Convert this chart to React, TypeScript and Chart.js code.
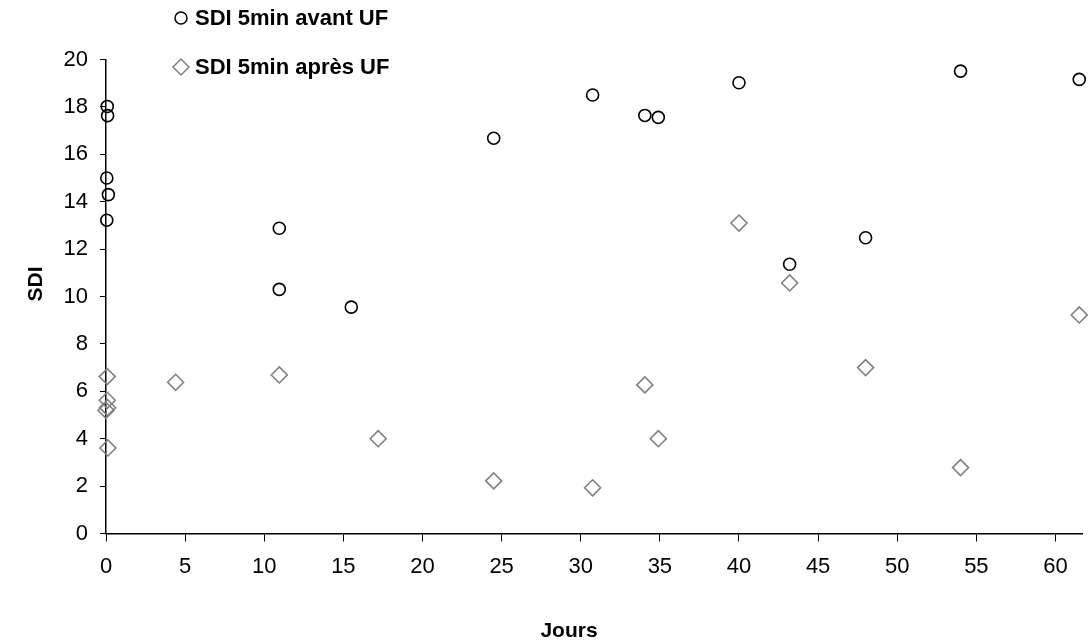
import React, { useEffect, useRef } from "react";
import { Chart, registerables } from "chart.js";

Chart.register(...registerables);

// Days (x) and SDI values (y)
const avantDays = [0.08, 0.1, 0.05, 0.15, 0.05, 10.95, 10.95, 15.5, 24.5, 30.75, 34.05, 34.9, 40.0, 43.2, 48.0, 54.0, 61.5];
const avantSDI = [18.02, 17.63, 15.0, 14.3, 13.22, 12.88, 10.3, 9.55, 16.68, 18.5, 17.64, 17.56, 19.02, 11.36, 12.48, 19.51, 19.16];

const apresDays = [0.08, 0.08, 0.1, 0.0, 0.12, 4.4, 10.95, 17.2, 24.5, 30.75, 34.05, 34.9, 40.0, 43.2, 48.0, 54.0, 61.5];
const apresSDI = [6.62, 5.62, 5.31, 5.2, 3.61, 6.38, 6.69, 4.0, 2.22, 1.93, 6.27, 4.0, 13.1, 10.57, 7.0, 2.78, 9.22];

const seriesNames = ["SDI 5min avant UF", "SDI 5min après UF"];
const xTitle = "Jours";
const yTitle = "SDI";

const FONT = "'Liberation Sans', Arial, sans-serif";

export default function App() {
  const ref = useRef<HTMLCanvasElement | null>(null);

  useEffect(() => {
    if (!ref.current) return;
    const toPts = (xs: number[], ys: number[]) => xs.map((x, i) => ({ x, y: ys[i] }));

    const overlay = {
      id: "overlay",
      afterDraw(chart: any) {
        const ctx = chart.ctx;
        ctx.save();
        // legend
        ctx.lineWidth = 1.5;
        ctx.strokeStyle = "#000";
        ctx.beginPath();
        ctx.arc(181, 18, 6, 0, Math.PI * 2);
        ctx.stroke();
        ctx.strokeStyle = "#808080";
        ctx.beginPath();
        ctx.moveTo(181, 67 - 8);
        ctx.lineTo(181 + 8, 67);
        ctx.lineTo(181, 67 + 8);
        ctx.lineTo(181 - 8, 67);
        ctx.closePath();
        ctx.stroke();
        ctx.fillStyle = "#000";
        ctx.font = `bold 22px ${FONT}`;
        ctx.textAlign = "left";
        ctx.textBaseline = "middle";
        ctx.fillText(seriesNames[0], 195, 19);
        ctx.fillText(seriesNames[1], 195, 68);
        // axis titles
        ctx.font = `bold 21px ${FONT}`;
        ctx.textAlign = "center";
        ctx.fillText(xTitle, 569, 631);
        ctx.translate(36, 284);
        ctx.rotate(-Math.PI / 2);
        ctx.fillText(yTitle, 0, 0);
        ctx.restore();
      },
    };

    const chart = new Chart(ref.current, {
      type: "scatter",
      data: {
        datasets: [
          {
            label: seriesNames[0],
            data: toPts(avantDays, avantSDI),
            pointStyle: "circle",
            pointRadius: 6,
            pointHoverRadius: 6,
            pointBorderWidth: 1.6,
            borderColor: "#000",
            backgroundColor: "rgba(0,0,0,0)",
            clip: false as any,
          },
          {
            label: seriesNames[1],
            data: toPts(apresDays, apresSDI),
            pointStyle: "rectRot",
            pointRadius: 8,
            pointHoverRadius: 8,
            pointBorderWidth: 1.6,
            borderColor: "#808080",
            backgroundColor: "rgba(0,0,0,0)",
            clip: false as any,
          },
        ],
      },
      options: {
        responsive: false,
        animation: false,
        events: [],
        layout: { padding: { top: 59.5, right: 0, left: 0, bottom: 0 } },
        plugins: { legend: { display: false }, tooltip: { enabled: false } },
        scales: {
          x: {
            type: "linear",
            min: 0,
            max: 61.7,
            afterFit: (s: any) => {
              s.height = 109.5;
            },
            ticks: {
              stepSize: 5,
              includeBounds: false,
              color: "#000",
              padding: 12,
              maxRotation: 0,
              font: { family: FONT, size: 22 },
            },
            grid: {
              display: true,
              drawOnChartArea: false,
              drawTicks: true,
              tickLength: 8,
              color: "#000",
              lineWidth: 1,
            },
            border: { display: true, color: "#000", width: 1.5 },
          },
          y: {
            type: "linear",
            min: 0,
            max: 20,
            afterFit: (s: any) => {
              s.width = 106;
            },
            ticks: {
              stepSize: 2,
              color: "#000",
              padding: 12,
              font: { family: FONT, size: 22 },
            },
            grid: {
              display: true,
              drawOnChartArea: false,
              drawTicks: true,
              tickLength: 6,
              color: "#000",
              lineWidth: 1,
            },
            border: { display: true, color: "#000", width: 1.5 },
          },
        },
      },
      plugins: [overlay],
    });
    return () => chart.destroy();
  }, []);

  return (
    <div style={{ position: "fixed", left: 0, top: 0, width: 1092, height: 643, background: "#fff" }}>
      <canvas ref={ref} width={1092} height={643} style={{ display: "block" }} />
    </div>
  );
}
